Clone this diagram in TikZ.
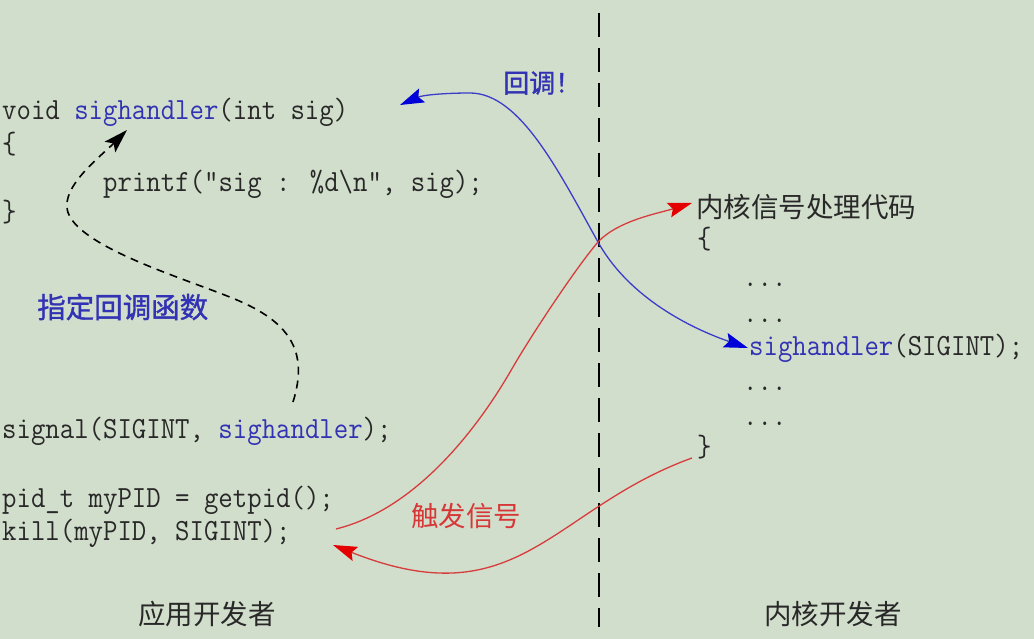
\documentclass[tikz,border=0pt]{standalone}
\usepackage{fontspec}
\usepackage{graphicx}
\usetikzlibrary{arrows.meta}
\newfontfamily\cjk{Noto Sans CJK SC}
\newfontfamily\cjkm[FakeBold=1.2]{Noto Sans CJK SC}
\definecolor{bgc}{RGB}{210,222,204}
\definecolor{codec}{RGB}{40,40,40}
\definecolor{bluet}{RGB}{50,50,180}
\definecolor{bluel}{RGB}{60,60,200}
\definecolor{redl}{RGB}{215,60,60}
\definecolor{redt}{RGB}{215,55,55}
\newcommand{\blu}[1]{\textcolor{bluet}{#1}}
\newcommand{\mycode}[1]{\scalebox{1}[1.1]{\fontsize{28}{30}\selectfont\ttfamily #1}}
\tikzset{
  code/.style={anchor=base west, inner sep=0pt, text=codec},
  cjklabel/.style={anchor=west, inner sep=0pt, font=\fontsize{27.5}{30}\selectfont\cjk},
  blueline/.style={draw=bluel, line width=1.3pt},
  redline/.style={draw=redl, line width=1.3pt},
  dashcurve/.style={draw=black, line width=1.6pt, dash pattern=on 8pt off 6pt},
  divider/.style={draw=black, line width=2pt, dash pattern=on 24pt off 11pt}
}
\begin{document}
\begin{tikzpicture}[x=1pt,y=-1pt]
\fill[bgc] (0,0) rectangle (1034,639);
\useasboundingbox (0,0) rectangle (1034,639);
% divider
\coordinate (divTop) at (599,13);
\coordinate (divBot) at (599,627);
\draw[divider] (divTop) -- (divBot);
% application side code
\node[code] (sigdef) at (2,120) {\mycode{void \blu{sighandler}(int sig)}};
\node[code] (lbr) at (2,154) {\mycode{\{}};
\node[code] (prt) at (103,192) {\mycode{printf(”sig : \%d\textbackslash n”, sig);}};
\node[code] (rbr) at (2,222) {\mycode{\}}};
\node[code] (signal) at (2,438) {\mycode{signal(SIGINT, \blu{sighandler});}};
\node[code] (pid) at (2,507) {\mycode{pid\_t myPID = getpid();}};
\node[code] (kill) at (2,540) {\mycode{kill(myPID, SIGINT);}};
% kernel side code
\node[cjklabel, text=codec] (ktitle) at (696,207) {内核信号处理代码};
\node[code] (klbr) at (697,249) {\mycode{\{}};
\node[code] (d1) at (743,287) {\mycode{...}};
\node[code] (d2) at (743,322) {\mycode{...}};
\node[code] (ksig) at (749,355) {\mycode{\blu{sighandler}(SIGINT);}};
\node[code] (d3) at (743,390) {\mycode{...}};
\node[code] (d4) at (743,425) {\mycode{...}};
\node[code] (krbr) at (697,456) {\mycode{\}}};
% labels
\node[cjklabel, text=bluet, font=\fontsize{28.5}{30}\selectfont\cjkm] (lbl1) at (37,307) {指定回调函数};
\node[cjklabel, text=bluet, font=\fontsize{26}{30}\selectfont\cjkm] (lbl2) at (503,83) {回调！};
\node[cjklabel, text=redt] (lbl3) at (411,516) {触发信号};
\node[cjklabel, text=codec] (lbl4) at (138,614) {应用开发者};
\node[cjklabel, text=codec] (lbl5) at (764,614) {内核开发者};
% connector end points
\coordinate (dashS) at (293,402);
\coordinate (dashE) at (127,130);
\coordinate (blueA) at (400,105);
\coordinate (blueB) at (748,348);
\coordinate (cross) at (598,242);
\coordinate (redS) at (336,529);
\coordinate (redE) at (692,203);
\coordinate (red2S) at (692,458);
\coordinate (red2E) at (333,545);
% dashed: signal -> sighandler definition
\draw[dashcurve, -{Stealth[length=24pt,width=15pt,inset=5pt]}] (dashS)
  .. controls (309.5,349.75) and (287.6,321.5) .. (237,300)
  .. controls (191,280.5) and (90.4,251.4) .. (70,217)
  .. controls (54.7,191.2) and (98.6,158.4) .. (dashE);
% blue: callback
\draw[blueline, {Stealth[length=24pt,width=15pt,inset=4pt,color=blue!85!black]}-{Stealth[length=24pt,width=15pt,inset=4pt,color=blue!85!black]}] (blueA)
  .. controls (423,95) and (445,93) .. (470,93)
  .. controls (520,93) and (559,172) .. (cross)
  .. controls (632,303) and (701.5,332) .. (blueB);
% red: kill -> kernel
\draw[redline, -{Stealth[length=24pt,width=15pt,inset=4pt,color=red!90!black]}] (redS)
  .. controls (433,505) and (498,393) .. (513,367)
  .. controls (530.5,336.7) and (575,269) .. (cross)
  .. controls (618,220.5) and (658.5,213.3) .. (redE);
% red: kernel -> kill
\draw[redline, -{Stealth[length=24pt,width=15pt,inset=4pt,color=red!90!black]}] (red2S)
  .. controls (551,509) and (519,619) .. (red2E);
\end{tikzpicture}
\end{document}
